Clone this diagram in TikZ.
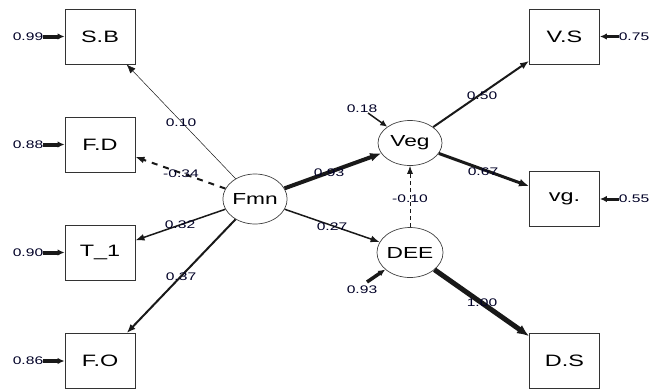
\documentclass[tikz,border=0pt]{standalone}
\usepackage{fontspec}
\setmainfont{Liberation Sans}[FakeStretch=1.42]
\usetikzlibrary{arrows.meta,shapes.geometric}
\begin{document}
\begin{tikzpicture}[x=1pt,y=-1pt,
  obs/.style={draw=black!80,line width=0.9pt,minimum width=70pt,minimum height=55pt,inner sep=0pt,font=\fontsize{16.5}{18}\selectfont},
  lat/.style={draw=black!75,line width=0.7pt,ellipse,inner sep=0pt,font=\fontsize{16}{18}\selectfont},
  lbl/.style={inner sep=0pt,font=\fontsize{11}{12}\selectfont,text=black!85!blue},
  path/.style={draw=black!90,-{Latex[length=9pt,width=7pt]}},
  res/.style={draw=black!90,-{Latex[length=7pt,width=6.5pt]}}
]
\useasboundingbox (0,0) rectangle (652,389);
% observed
\node[obs] (sb) at (100,36.5) {S.B};
\node[obs] (fd) at (100,144.5) {F.D};
\node[obs] (t1) at (100,252.5) {T\_1};
\node[obs] (fo) at (100,361) {F.O};
\node[obs] (vs) at (564.5,36.5) {V.S};
\node[obs] (vg) at (564.5,199) {vg.};
\node[obs] (ds) at (564.5,361) {D.S};
% latent
\node[lat,minimum width=64pt,minimum height=50pt] (fmn) at (255,199) {Fmn};
\node[lat,minimum width=64pt,minimum height=45pt] (veg) at (410,143) {Veg};
\node[lat,minimum width=64pt,minimum height=50pt] (dee) at (410,252.5) {DEE};
% paths
\draw[path,line width=0.5pt] (fmn) -- (sb);
\draw[path,line width=2pt,dash pattern=on 6pt off 6pt] (fmn) -- (fd);
\draw[path,line width=1.5pt] (fmn) -- (t1);
\draw[path,line width=2pt] (fmn) -- (fo);
\draw[path,line width=4pt,-{Latex[length=11pt,width=9pt]}] (fmn) -- (veg);
\draw[path,line width=1.5pt] (fmn) -- (dee);
\draw[path,line width=0.8pt,dash pattern=on 4pt off 3pt,-{Latex[length=8pt,width=6pt]}] (dee) -- (veg);
\draw[path,line width=2pt] (veg) -- (vs);
\draw[path,line width=3pt,-{Latex[length=10pt,width=8pt]}] (veg) -- (vg);
\draw[path,line width=5pt,-{Latex[length=12pt,width=10pt]}] (dee) -- (ds);
% path labels
\node[lbl] (l1) at (181,123) {0.10};
\node[lbl] (l2) at (181,174) {-0.34};
\node[lbl] (l3) at (180,225) {0.32};
\node[lbl] (l4) at (181,277) {0.37};
\node[lbl] (l5) at (329,173) {0.93};
\node[lbl] (l6) at (332,227) {0.27};
\node[lbl] (l7) at (410,199) {-0.10};
\node[lbl] (l8) at (482,96) {0.50};
\node[lbl] (l9) at (483,172) {0.67};
\node[lbl] (l10) at (482,303) {1.00};
% residuals left
\node[lbl] (r1) at (28,36.5) {0.99};
\node[lbl] (r2) at (28,144.5) {0.88};
\node[lbl] (r3) at (28,252.5) {0.90};
\node[lbl] (r4) at (28,361) {0.86};
\draw[res,line width=4pt] (r1.east) -- (sb.west);
\draw[res,line width=4pt] (r2.east) -- (fd.west);
\draw[res,line width=4pt] (r3.east) -- (t1.west);
\draw[res,line width=4pt] (r4.east) -- (fo.west);
% residuals right
\node[lbl] (r5) at (634,36.5) {0.75};
\node[lbl] (r6) at (634,199) {0.55};
\draw[res,line width=3.5pt] (r5.west) -- (vs.east);
\draw[res,line width=3pt] (r6.west) -- (vg.east);
% latent residuals
\node[lbl] (r7) at (362,109) {0.18};
\node[lbl] (r8) at (362,290) {0.93};
\coordinate (r7s) at (368,113);
\coordinate (r8s) at (367,282);
\draw[res,line width=1.5pt] (r7s) -- (veg);
\draw[res,line width=3.5pt] (r8s) -- (dee);
\end{tikzpicture}
\end{document}
